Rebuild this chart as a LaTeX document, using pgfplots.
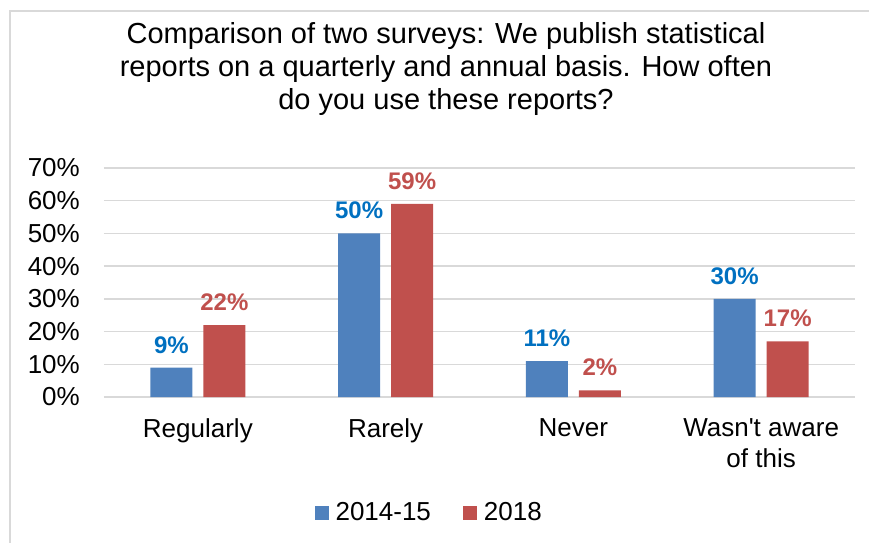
\documentclass[border=0pt]{standalone}
\usepackage{fontspec}
\setmainfont{Liberation Sans}
\usepackage{pgfplots}
\pgfplotsset{compat=1.18}
\definecolor{barblue}{HTML}{4F81BD}
\definecolor{barred}{HTML}{C0504D}
\definecolor{lblblue}{HTML}{0070C0}
\definecolor{gridgray}{HTML}{D9D9D9}
\begin{document}
\fontsize{26}{31}\selectfont
\begin{tikzpicture}
\useasboundingbox (-104pt,-145pt) rectangle (765pt,397pt);
% chart frame
\draw[gridgray, line width=1.5pt] (-94pt,-160pt) -- (-94pt,386pt) -- (780pt,386pt);
% title
\node[align=center, font=\fontsize{29}{33}\selectfont, inner sep=0pt] at (342pt,328pt)
  {Comparison of two surveys: We publish statistical\\
   reports on a quarterly and annual basis. How often\\
   do you use these reports?};
\begin{axis}[
  at={(0pt,0pt)}, anchor=south west,
  scale only axis, width=751pt, height=229pt,
  ymin=0, ymax=70, xmin=-0.5, xmax=3.5,
  ybar=11pt, bar width=42pt,
  axis line style={draw=none},
  ymajorgrids, grid style={gridgray, line width=1.5pt},
  major tick length=0pt,
  xtick={0,1,2,3},
  xticklabels={Regularly,Rarely,Never,{Wasn\textquotesingle t aware\\of this}},
  xticklabel style={align=center, anchor=north, inner sep=0pt, yshift=-21pt,
    font=\fontsize{26}{31}\selectfont},
  ytick={0,10,...,70},
  yticklabel={\pgfmathprintnumber{\tick}\%},
  yticklabel style={anchor=east, inner sep=0pt, xshift=-24pt,
    font=\fontsize{26}{31}\selectfont},
  /pgf/number format/assume math mode=true,
  nodes near coords={\pgfmathprintnumber{\pgfplotspointmeta}\%},
  nodes near coords style={font=\fontsize{24}{28}\selectfont\bfseries,
    anchor=base, inner sep=0pt, yshift=14.5pt},
  legend style={at={(0.433,-0.507)}, anchor=center, draw=none,
    font=\fontsize{26}{31}\selectfont, legend columns=2,
    /tikz/every odd column/.append style={column sep=5pt},
    /tikz/every even column/.append style={column sep=30pt}},
  legend image code/.code={\fill[#1] (0pt,-7pt) rectangle (14pt,7pt);},
]
\addplot[fill=barblue, draw=none, every node near coord/.append style={text=lblblue}]
  coordinates {(0,9) (1,50) (2,11) (3,30)};
\addplot[fill=barred, draw=none, every node near coord/.append style={text=barred}]
  coordinates {(0,22) (1,59) (2,2) (3,17)};
\legend{2014-15,2018}
\end{axis}
\end{tikzpicture}
\end{document}
